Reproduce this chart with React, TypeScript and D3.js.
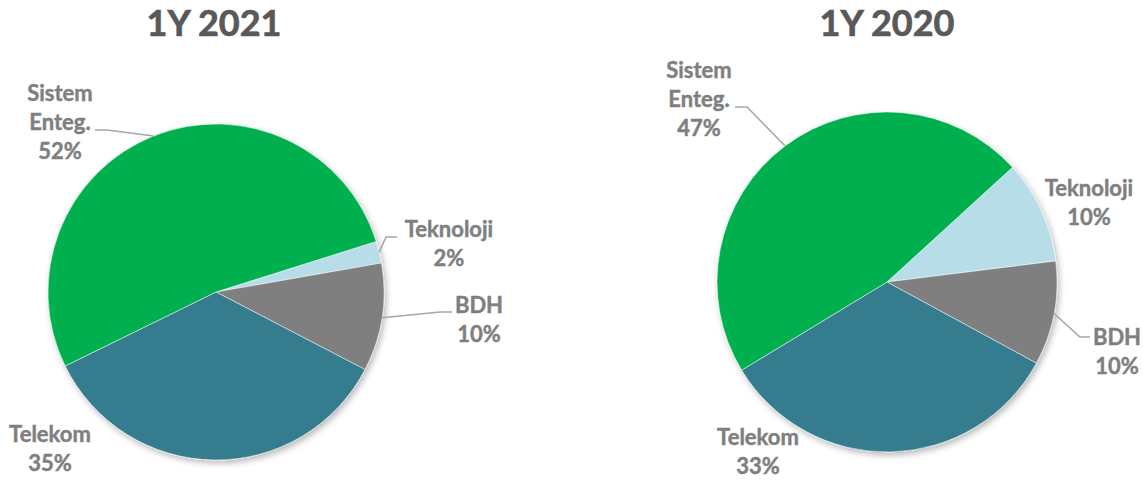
import React from "react";
import * as d3 from "d3";

const categories = ["Teknoloji", "BDH", "Telekom", "Sistem Enteg."];
const labelLines = [["Teknoloji"], ["BDH"], ["Telekom"], ["Sistem", "Enteg."]];
const values2021 = [2.1, 10.4, 35.1, 52.4];
const values2020 = [9.8, 9.9, 33.4, 46.9];
const titles = ["1Y 2021", "1Y 2020"];
const colors = ["#B7DEE8", "#7F7F7F", "#357B8F", "#00B050"];

const FONT = "Lato, 'Open Sans', sans-serif";

type LabelPos = { x: number; y: number; leader?: [number, number, number] };

const charts = [
  {
    title: titles[0],
    values: values2021,
    cx: 216,
    cy: 292,
    r: 168,
    startDeg: 72.5,
    titleX: 214,
    labels: [
      { x: 449, y: 237, leader: [397, 386, 237] },
      { x: 479, y: 313, leader: [452, 440, 312] },
      { x: 50, y: 442 },
      { x: 60, y: 101, leader: [95, 107, 130] },
    ] as LabelPos[],
  },
  {
    title: titles[1],
    values: values2020,
    cx: 887,
    cy: 282,
    r: 170,
    startDeg: 47.6,
    titleX: 887,
    labels: [
      { x: 1089, y: 196 },
      { x: 1117, y: 345, leader: [1090, 1080, 337] },
      { x: 758, y: 445 },
      { x: 699, y: 78, leader: [735, 747, 107] },
    ] as LabelPos[],
  },
];

export default function App() {
  const lineH = 29;
  return (
    <svg width={1143} height={483} style={{ display: "block", position: "absolute", left: 0, top: 0 }}>
      <defs>
        <filter id="shadow" x="-20%" y="-20%" width="140%" height="140%">
          <feDropShadow dx="2" dy="3" stdDeviation="3" floodColor="#000" floodOpacity="0.28" />
        </filter>
      </defs>
      <rect width={1143} height={483} fill="#fff" />
      {charts.map((c, ci) => {
        const start = (c.startDeg * Math.PI) / 180;
        const pie = d3
          .pie<number>()
          .sort(null)
          .startAngle(start)
          .endAngle(start + 2 * Math.PI)
          .value((d) => d);
        const arcs = pie(c.values);
        const arc = d3.arc<d3.PieArcDatum<number>>().innerRadius(0).outerRadius(c.r);
        return (
          <g key={ci}>
            <text
              x={c.titleX}
              y={36}
              textAnchor="middle"
              fontFamily={FONT}
              fontWeight={700}
              fontSize={36}
              fill="#595959"
              stroke="#595959"
              strokeWidth={0.7}
            >
              {c.title}
            </text>
            <g transform={`translate(${c.cx},${c.cy})`} filter="url(#shadow)">
              {arcs.map((a, i) => (
                <path key={i} d={arc(a) || ""} fill={colors[i]} stroke="#fff" strokeWidth={0.5} />
              ))}
            </g>
            {arcs.map((a, i) => {
              const lp = c.labels[i];
              const mid = (a.startAngle + a.endAngle) / 2;
              const ex = c.cx + c.r * Math.sin(mid);
              const ey = c.cy - c.r * Math.cos(mid);
              const lines = [...labelLines[i], `${Math.round(c.values[i])}%`];
              return (
                <g key={i}>
                  {lp.leader && (
                    <polyline
                      points={`${lp.leader[0]},${lp.leader[2]} ${lp.leader[1]},${lp.leader[2]} ${ex},${ey}`}
                      fill="none"
                      stroke="#A6A6A6"
                      strokeWidth={1.5}
                    />
                  )}
                  <text
                    textAnchor="middle"
                    fontFamily={FONT}
                    fontWeight={700}
                    fontSize={22}
                    fill="#7F7F7F"
                    stroke="#7F7F7F"
                    strokeWidth={0.45}
                  >
                    {lines.map((t, k) => (
                      <tspan key={k} x={lp.x} y={lp.y + k * lineH}>
                        {t}
                      </tspan>
                    ))}
                  </text>
                </g>
              );
            })}
          </g>
        );
      })}
    </svg>
  );
}
